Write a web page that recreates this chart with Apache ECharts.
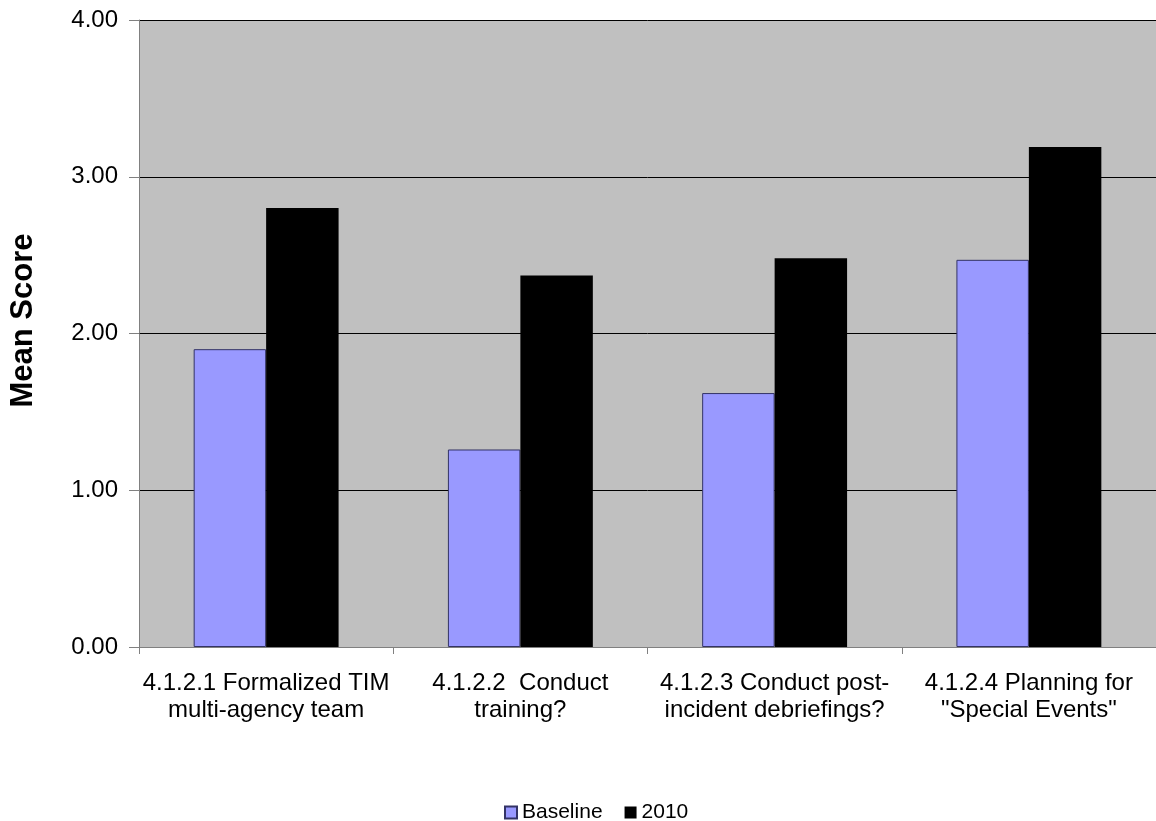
<!DOCTYPE html>
<html><head><meta charset="utf-8">
<script src="https://cdn.jsdelivr.net/npm/echarts@6/dist/echarts.min.js"></script>
<style>html,body{margin:0;padding:0;background:#fff}#c{width:1156px;height:821px}</style>
</head><body><div id="c"></div>
<script>
const categories = ['4.1.2.1 Formalized TIM\nmulti-agency team', '4.1.2.2  Conduct\ntraining?', '4.1.2.3 Conduct post-\nincident debriefings?', '4.1.2.4 Planning for\n"Special Events"'];
const baseline = [1.90, 1.26, 1.62, 2.47];
const y2010 = [2.80, 2.37, 2.48, 3.19];
const yTicks = [0, 1, 2, 3, 4];

const chart = echarts.init(document.getElementById('c'));
chart.setOption({
  animation: false,
  textStyle: {fontFamily: 'Liberation Sans, Arial, sans-serif'},
  grid: {left: 138, right: -4, top: 20, bottom: 174, show: true, backgroundColor: '#C0C0C0', borderWidth: 0},
  legend: {
    top: 797, left: 499,
    icon: 'rect',
    itemWidth: 12, itemHeight: 12, itemGap: 22,
    textStyle: {fontSize: 21, color: '#000', fontFamily: 'Liberation Sans, Arial, sans-serif'},
    data: ['Baseline', '2010']
  },
  xAxis: {
    type: 'category', data: categories,
    axisLine: {lineStyle: {color: '#808080', width: 1}},
    axisTick: {show: true, length: 7, lineStyle: {color: '#808080'}},
    axisLabel: {fontSize: 24, color: '#000', lineHeight: 27, margin: 23, interval: 0}
  },
  yAxis: {
    type: 'value', min: 0, max: 4, interval: 1,
    name: 'Mean Score', nameLocation: 'middle', nameGap: 100,
    nameTextStyle: {fontSize: 31, fontWeight: 'bold', color: '#000', padding: [0, 0, 0, 26]},
    axisLine: {show: true, lineStyle: {color: '#808080'}},
    axisTick: {show: true, length: 10, lineStyle: {color: '#808080'}},
    axisLabel: {fontSize: 24, color: '#000', margin: 21, formatter: v => yTicks.includes(v) ? v.toFixed(2) : ''},
    splitLine: {show: true, lineStyle: {color: '#000', width: 1}}
  },
  series: [
    {name: 'Baseline', type: 'bar', data: baseline, barGap: '0%', barCategoryGap: '43%',
     itemStyle: {color: '#9999FF', borderColor: '#333366', borderWidth: 1}},
    {name: '2010', type: 'bar', data: y2010,
     itemStyle: {color: '#000000'}}
  ]
});
</script></body></html>
